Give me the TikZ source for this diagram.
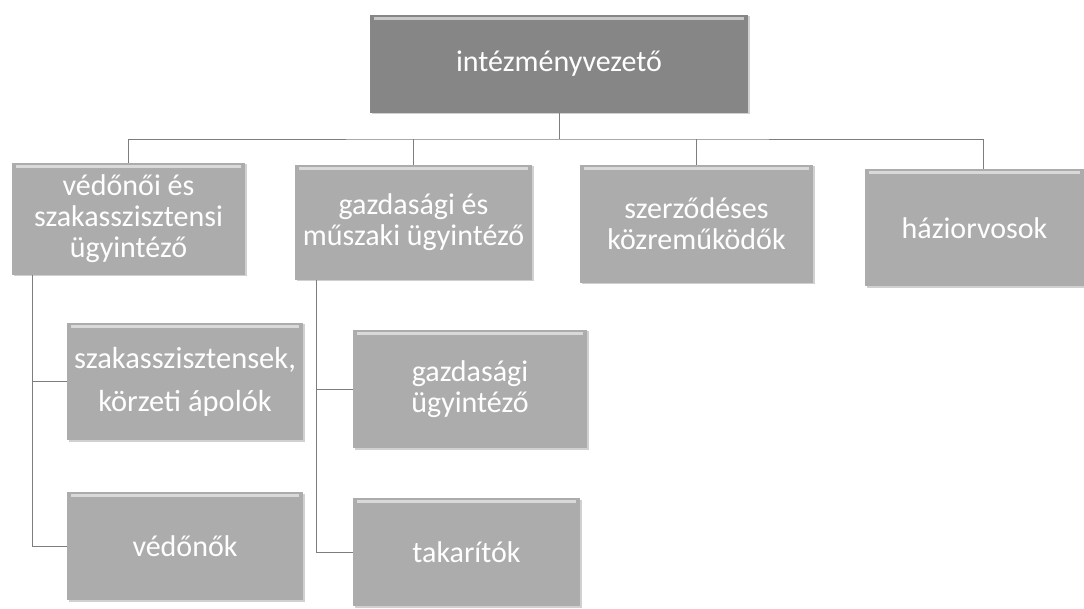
\documentclass[tikz,border=0pt]{standalone}
\usepackage{fontspec}
\setmainfont{Carlito}
\usetikzlibrary{shadows}
\definecolor{topgray}{RGB}{134,134,134}
\definecolor{boxgray}{RGB}{172,172,172}
\definecolor{linegray}{RGB}{125,125,125}
\tikzset{
  orgbox/.style={draw=none, fill=boxgray, text=white, align=center,
    inner sep=2pt, font=\fontsize{30}{31}\selectfont,
    drop shadow={shadow xshift=1.5pt, shadow yshift=-1.5pt, fill=gray!60, opacity=.6}},
  topbox/.style={orgbox, fill=topgray},
  conn/.style={draw=linegray, line width=0.8pt}
}
\begin{document}
\begin{tikzpicture}[x=1pt,y=-1pt]
\useasboundingbox[fill=white] (0,0) rectangle (1084,609);
% nodes
\node[topbox, minimum width=378pt, minimum height=98pt] (top) at (559,64) {\raisebox{-4pt}{intézményvezető}};
\node[orgbox, minimum width=233pt, minimum height=112pt] (b1) at (128.5,219) {\raisebox{-4pt}{\parbox{228pt}{\centering védőnői és\\szakasszisztensi\\ügyintéző}}};
\node[orgbox, minimum width=237pt, minimum height=115pt] (b2) at (413.5,222.5) {gazdasági és\\műszaki ügyintéző};
\node[orgbox, minimum width=233pt, minimum height=118pt] (b3) at (696.5,224) {\raisebox{-5pt}{\parbox{228pt}{\centering szerződéses\\közreműködők}}};
\node[orgbox, minimum width=219pt, minimum height=117pt] (b4) at (974.5,228) {háziorvosok};
\node[orgbox, minimum width=236pt, minimum height=117pt, font=\fontsize{30.5}{43}\selectfont] (c1) at (185,381.5) {szakasszisztensek,\\körzeti ápolók};
\node[orgbox, minimum width=236pt, minimum height=108pt] (c2) at (185,546) {védőnők};
\node[orgbox, minimum width=234pt, minimum height=118pt] (c3) at (470,389) {gazdasági\\ügyintéző};
\node[orgbox, minimum width=227pt, minimum height=108pt] (c4) at (466.5,552) {takarítók};
% glossy highlights
\foreach \n in {top,b1,b2,b3,b4,c1,c2,c3,c4}{
  \fill[white,opacity=.55] ([xshift=4pt,yshift=-2pt]\n.north west) rectangle ([xshift=-4pt,yshift=-5pt]\n.north east);
}
% connectors
\coordinate (bus) at (559,139);
\coordinate (b4top) at ([xshift=8.5pt]b4.north);
\draw[conn] (top.south) -- (bus);
\draw[conn] (b1.north) |- (bus) -| (b4top);
\draw[conn] (b2.north) -- (b2.north |- bus);
\draw[conn] (b3.north) -- (b3.north |- bus);
\coordinate (l1) at ([xshift=21pt]b1.south west);
\coordinate (l2) at ([xshift=22pt]b2.south west);
\draw[conn] (l1) |- (c1.west);
\draw[conn] (l1) |- (c2.west);
\draw[conn] (l2) |- (c3.west);
\draw[conn] (l2) |- (c4.west);
\end{tikzpicture}
\end{document}
